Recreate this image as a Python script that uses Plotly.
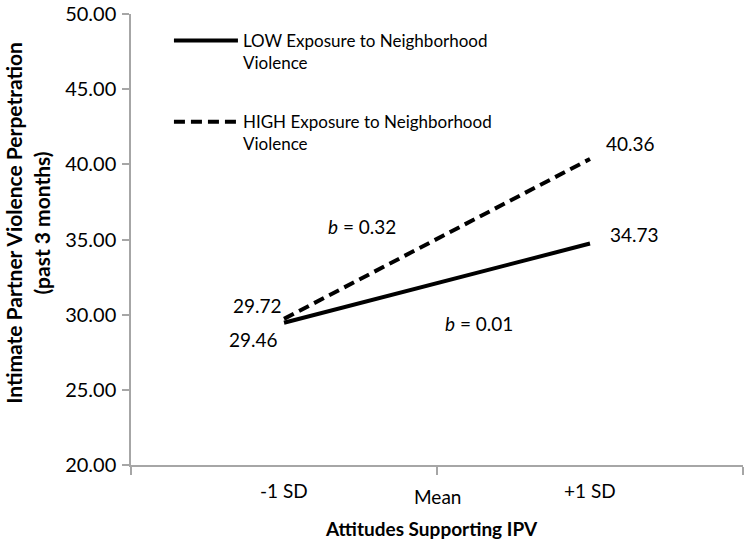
import plotly.graph_objects as go

# ---- data ----
categories = ["-1 SD", "Mean", "+1 SD"]
cat_x = [-1, 0, 1]
series_names = ["LOW Exposure to Neighborhood<br>Violence",
                "HIGH Exposure to Neighborhood<br>Violence"]
low_x = [-1, 1]
low_y = [29.46, 34.73]
high_x = [-1, 1]
high_y = [29.72, 40.36]
slope_labels = ["<i>b</i> = 0.32", "<i>b</i> = 0.01"]
slope_pos = [(-0.493, 35.89), (0.275, 29.44)]
y_ticks = [20, 25, 30, 35, 40, 45, 50]

FONT = "Lato"
AXIS_COLOR = "#a6a6a6"

fig = go.Figure()
fig.add_trace(go.Scatter(x=low_x, y=low_y, mode="lines", name=series_names[0],
                         legendgroup="low",
                         line=dict(color="black", width=4)))
fig.add_trace(go.Scatter(x=high_x, y=high_y, mode="lines", name=series_names[1],
                         legendgroup="high",
                         line=dict(color="black", width=4, dash="11px,6px")))

ann = []
# value labels
ann.append(dict(x=low_x[0], y=low_y[0], text=f"{low_y[0]:.2f}", xshift=-31, yshift=-17))
ann.append(dict(x=high_x[0], y=high_y[0], text=f"{high_y[0]:.2f}", xshift=-27, yshift=13))
ann.append(dict(x=low_x[1], y=low_y[1], text=f"{low_y[1]:.2f}", xshift=44, yshift=9))
ann.append(dict(x=high_x[1], y=high_y[1], text=f"{high_y[1]:.2f}", xshift=40, yshift=15))
for t, (sx, sy) in zip(slope_labels, slope_pos):
    ann.append(dict(x=sx, y=sy, text=t))
for a in ann:
    a.update(xref="x", yref="y", showarrow=False, font=dict(family=FONT, size=19, color="black"))

# category labels
cat_y = [-0.057, -0.070, -0.057]
for c, cx, cy in zip(categories, cat_x, cat_y):
    ann.append(dict(x=cx, y=cy, xref="x", yref="paper", text=c, showarrow=False,
                    xanchor="center", yanchor="middle",
                    font=dict(family=FONT, size=19, color="black")))
# axis titles
ann.append(dict(x=0.4918, y=-0.1404, xref="paper", yref="paper",
                text="<b>Attitudes Supporting IPV</b>", showarrow=False,
                xanchor="center", yanchor="middle",
                font=dict(family=FONT, size=19, color="black")))
ann.append(dict(x=-0.169, y=0.536, xref="paper", yref="paper",
                text="<b>Intimate Partner Violence Perpetration<br>(past 3 months)</b>",
                showarrow=False, textangle=-90, xanchor="center", yanchor="middle",
                font=dict(family=FONT, size=21, color="black")))

fig.update_layout(
    width=744, height=539,
    margin=dict(l=131, r=1, t=9, b=74),
    paper_bgcolor="white", plot_bgcolor="white",
    font=dict(family=FONT, size=19, color="black"),
    annotations=ann,
    showlegend=True,
    legend=dict(x=0.062, y=0.98, xanchor="left", yanchor="top",
                traceorder="grouped", tracegroupgap=34, valign="top",
                itemwidth=64,
                font=dict(family=FONT, size=17, color="black"),
                bgcolor="rgba(0,0,0,0)"),
    xaxis=dict(range=[-2, 2], tickvals=[-2, 0, 2], ticks="outside", ticklen=8,
               tickcolor=AXIS_COLOR, tickwidth=1.5, showticklabels=False,
               showline=True, linecolor=AXIS_COLOR, linewidth=1.5,
               showgrid=False, zeroline=False, fixedrange=True),
    yaxis=dict(range=[20, 50], tickvals=y_ticks, tickformat=".2f",
               ticks="outside", ticklen=7, tickcolor=AXIS_COLOR, tickwidth=1.5,
               ticklabelstandoff=2, ticklabeloverflow="allow",
               showline=True, linecolor=AXIS_COLOR, linewidth=1.5,
               showgrid=False, zeroline=False, fixedrange=True,
               tickfont=dict(family=FONT, size=20, color="black")),
)

fig.write_html("out.html", config={"displayModeBar": False},
               post_script="document.body.style.margin='0';document.body.style.overflow='hidden';")
